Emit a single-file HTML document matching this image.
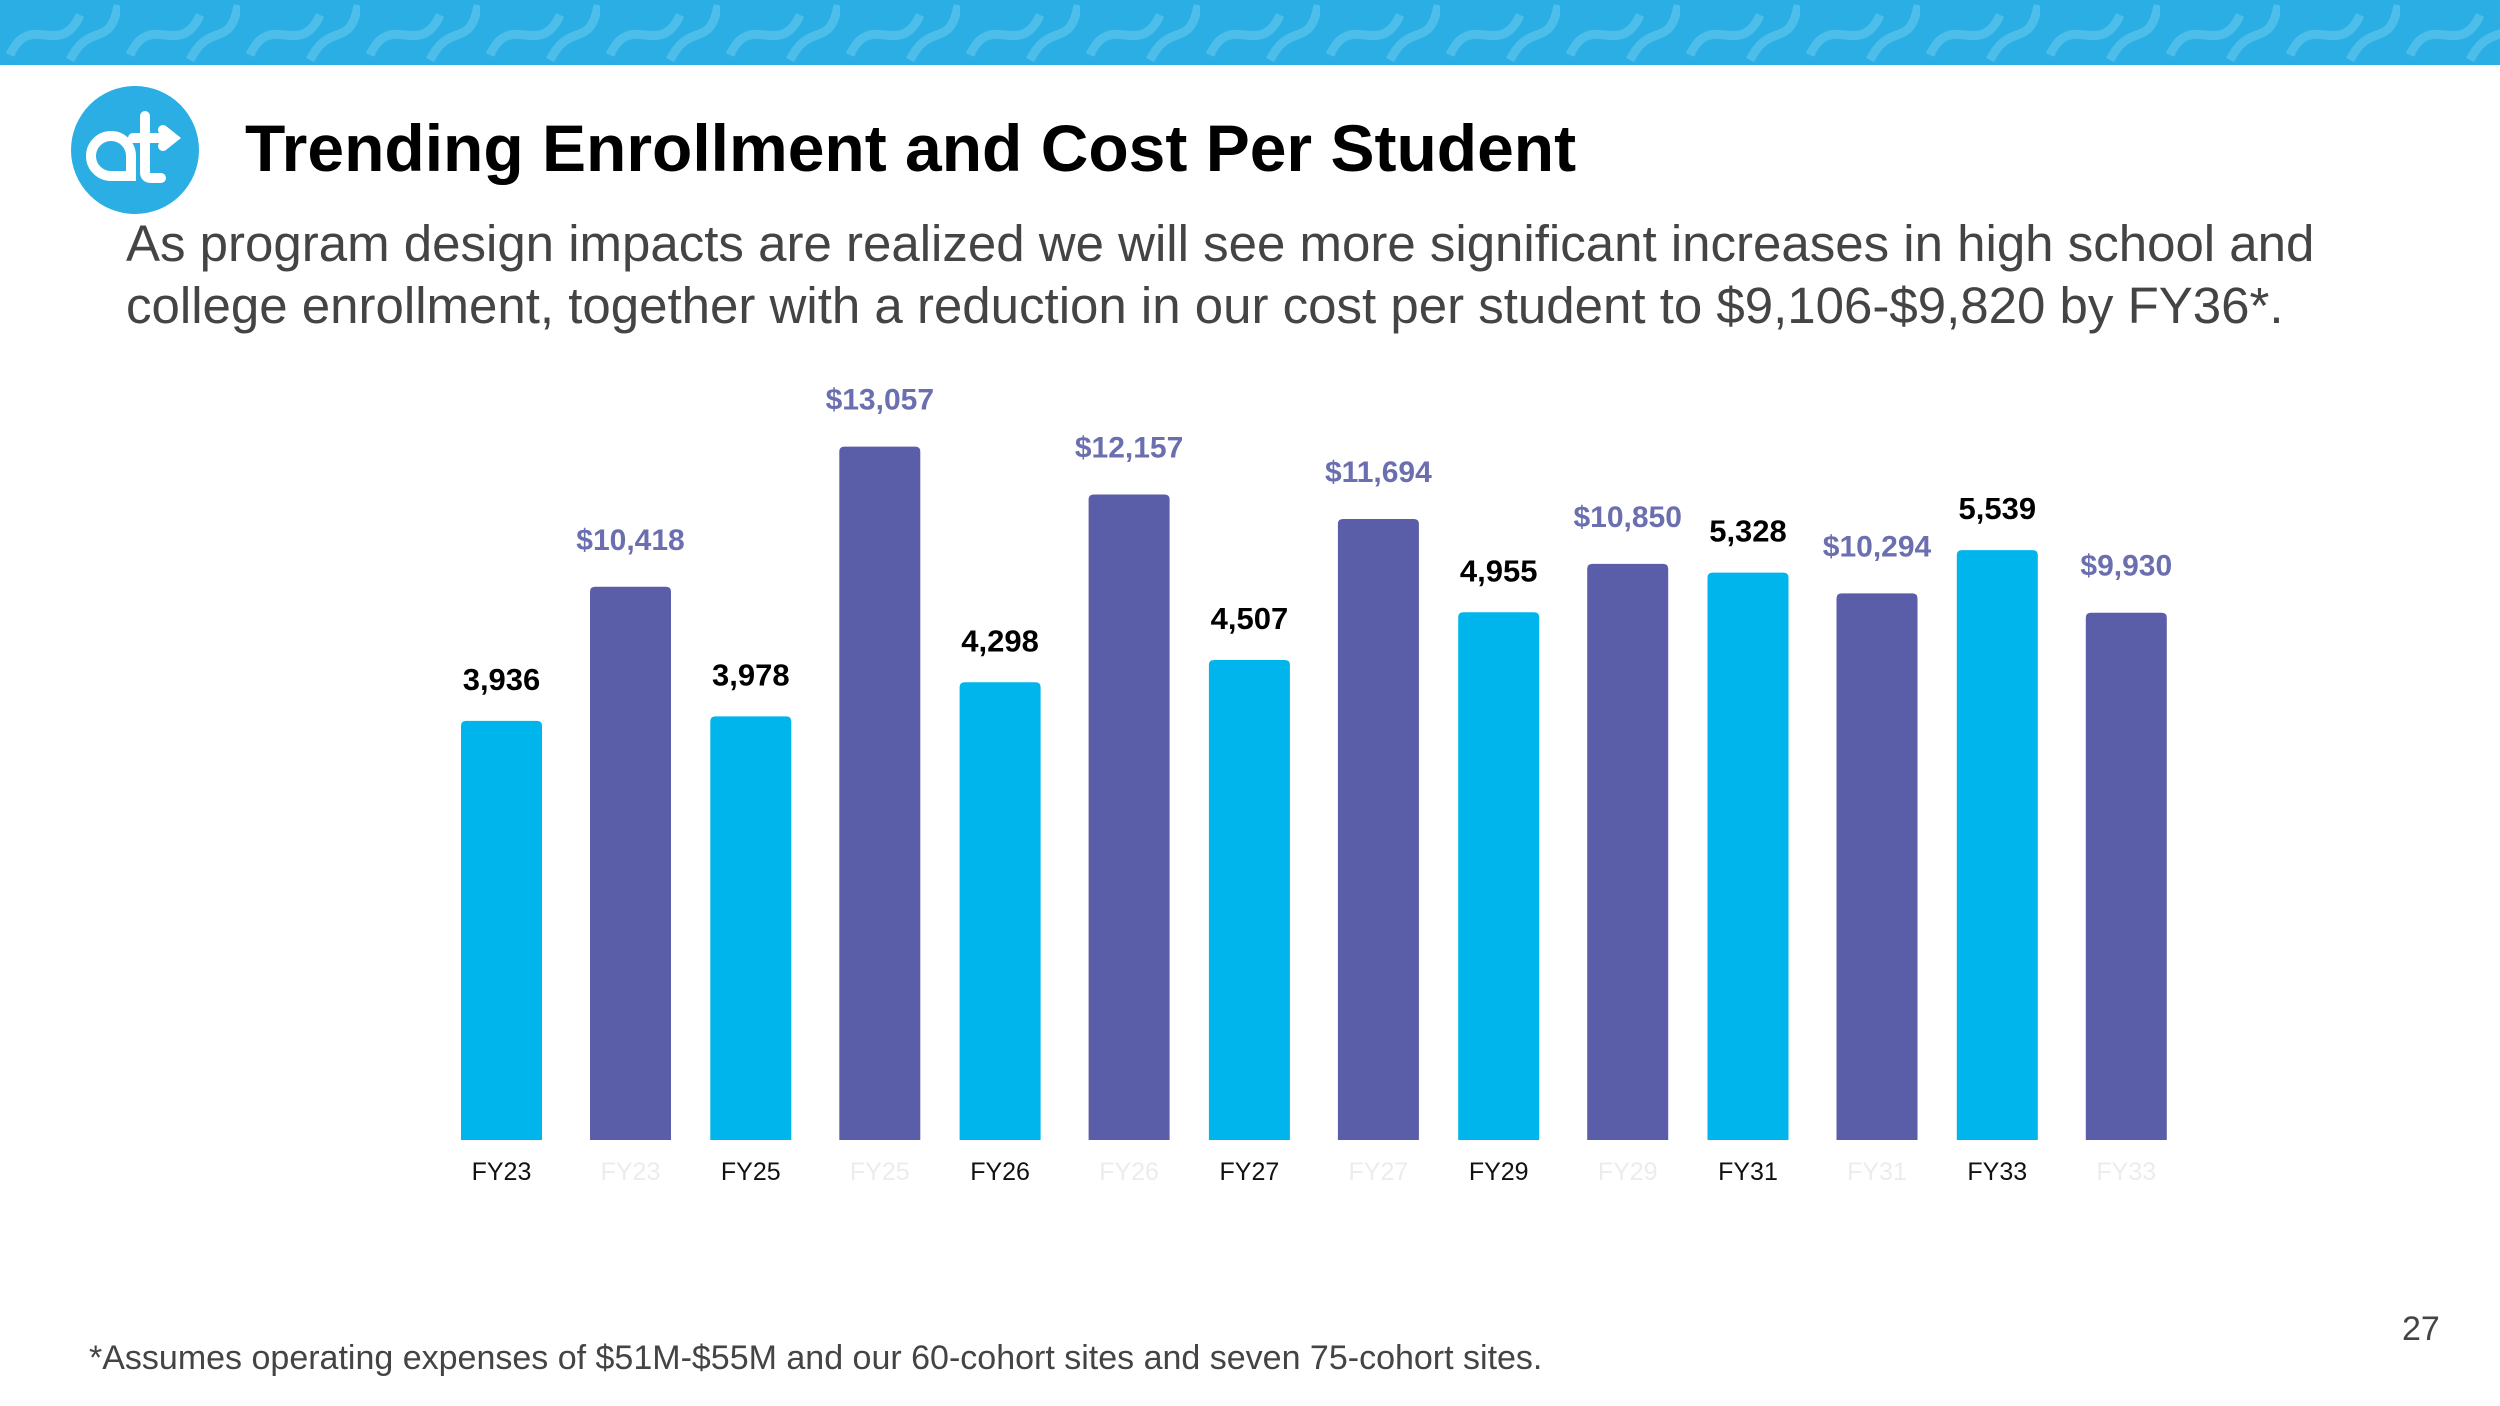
<!DOCTYPE html>
<html><head><meta charset="utf-8"><style>
html,body{margin:0;padding:0;background:#fff;}
body{width:2500px;height:1406px;overflow:hidden;position:relative;font-family:"Liberation Sans",sans-serif;}
.banner{position:absolute;left:0;top:0;width:2500px;height:65px;background:#2aaee4;overflow:hidden;}
.t{position:absolute;white-space:nowrap;}
</style></head><body>
<div class="banner">
<svg width="2500" height="65">
<defs><pattern id="p" width="120" height="65" patternUnits="userSpaceOnUse">
<path d="M10 55 C30 10,60 60,80 15 M70 60 C90 20,110 50,118 5" stroke="#5cc3ec" stroke-width="9" fill="none" opacity="0.7"/>
</pattern></defs>
<rect width="2500" height="65" fill="url(#p)"/></svg>
</div>
<svg class="t" style="left:71px;top:86px" width="128" height="128">
<circle cx="64" cy="64" r="64" fill="#2aaee4"/>
<path d="M60 70 A20 20 0 1 0 40 90 M40 90 L60 90 L60 70 M74 30 L74 86 Q74 92 80 92 L90 92 M62 52 L100 52 M92 44 L102 52 L92 60" stroke="#fff" stroke-width="10" fill="none" stroke-linecap="round"/>
</svg>
<div class="t" style="left:245px;top:110px;font-size:66px;font-weight:bold;color:#000;">Trending Enrollment and Cost Per Student</div>
<div class="t" style="left:126px;top:213px;font-size:51px;line-height:62px;color:#444;">As program design impacts are realized we will see more significant increases in high school and<br>college enrollment, together with a reduction in our cost per student to $9,106-$9,820 by FY36*.</div>
<svg id="chart" class="t" style="left:0;top:0" width="2500" height="1406"></svg>
<div class="t" style="left:89px;top:1339px;font-size:34px;color:#444;">*Assumes operating expenses of $51M-$55M and our 60-cohort sites and seven 75-cohort sites.</div>
<div class="t" style="left:2402px;top:1310px;font-size:34px;color:#444;">27</div>
<script>
const enrollLabels = ["FY23","FY25","FY26","FY27","FY29","FY31","FY33"];
const enrollValues = [3936,3978,4298,4507,4955,5328,5539];
const costLabels = ["FY23","FY25","FY26","FY27","FY29","FY31","FY33"];
const costValues = [10418,13057,12157,11694,10850,10294,9930];

const svg = document.getElementById('chart');
const NS = 'http://www.w3.org/2000/svg';
const base = 1140, bw = 81, step = 249.3;
const yE = v => v * 0.1065;
const yC = v => v * 0.0531;
const xE = i => 461 + i * step;
const xC = i => 590 + i * step;
function mk(tag, attrs){const e=document.createElementNS(NS,tag);for(const k in attrs)e.setAttribute(k,attrs[k]);svg.appendChild(e);return e;}
function bar(x,h,fill){return mk('path',{d:`M${x} ${base} L${x} ${base-h+5} Q${x} ${base-h} ${x+5} ${base-h} L${x+bw-5} ${base-h} Q${x+bw} ${base-h} ${x+bw} ${base-h+5} L${x+bw} ${base} Z`,fill:fill});}
enrollValues.forEach((v,i)=>{
  const h=yE(v), x=xE(i);
  const b=bar(x,h,'#00b5ec');
  
  
  const t=mk('text',{x:x+bw/2,y:base-h-31,'text-anchor':'middle','font-size':31,'font-weight':'bold',fill:'#000'});
  t.textContent=v.toLocaleString('en-US');
  
  
  const l=mk('text',{x:x+bw/2,y:1180,'text-anchor':'middle','font-size':25,fill:'#111'});
  l.textContent=enrollLabels[i];
  
  
});
costValues.forEach((v,i)=>{
  const h=yC(v), x=xC(i);
  const b=bar(x,h,'#5a5ea8');
  
  
  const t=mk('text',{x:x+bw/2,y:base-h-37,'text-anchor':'middle','font-size':30,'font-weight':'bold',fill:'#6b6fb0'});
  t.textContent='$'+v.toLocaleString('en-US');
  
  
  const l=mk('text',{x:x+bw/2,y:1180,'text-anchor':'middle','font-size':25,fill:'#ececec'});
  l.textContent=costLabels[i];
  
  
});
</script>
</body></html>
